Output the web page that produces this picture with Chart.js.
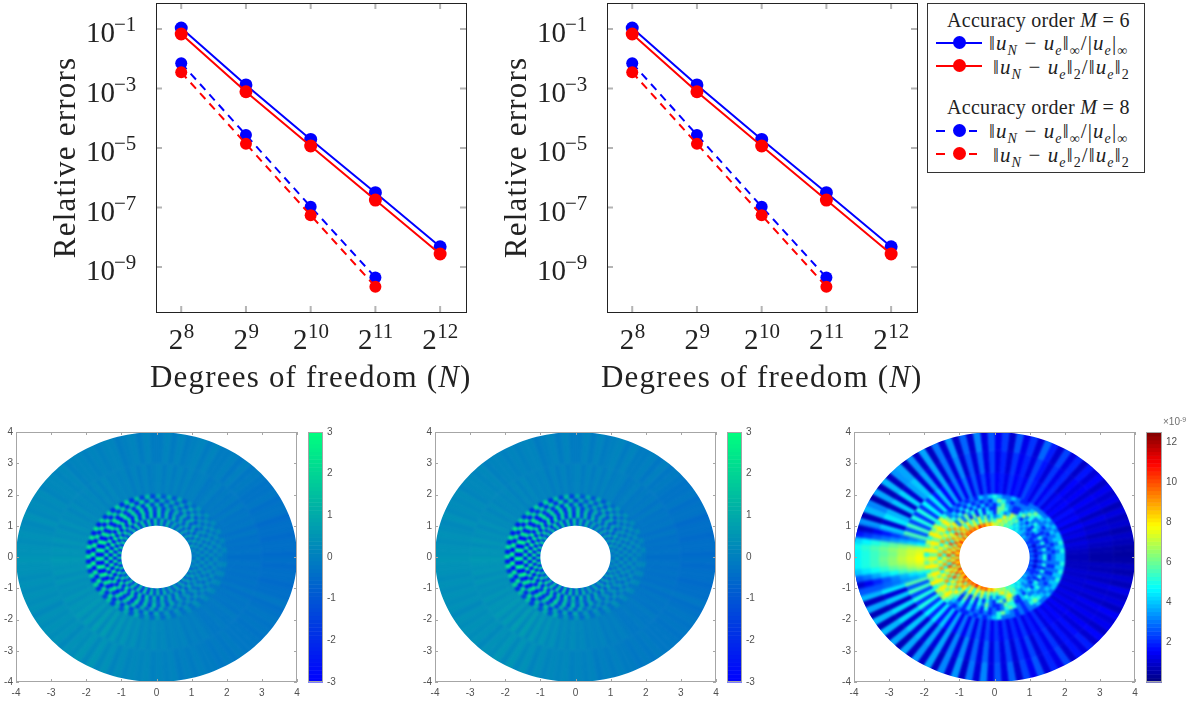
<!DOCTYPE html>
<html>
<head>
<meta charset="utf-8">
<script src="https://cdn.jsdelivr.net/npm/chart.js@4"></script>
<style>
  html, body { margin: 0; padding: 0; background: #fff; overflow: hidden; }
  canvas { position: absolute; }
  #legend { position: absolute; left: 927px; top: 3px; width: 216px; height: 168px; border: 1px solid #333; background: #fff; font-family: "Liberation Serif", serif; font-size: 20px; letter-spacing: .3px; color: #222; }
  #legend .t { position: absolute; white-space: nowrap; line-height: 20px; }
  #legend .m { font-size: 21px; letter-spacing: 1.1px; }
  #legend sub { font-size: 14px; line-height: 0; }
  #legend .l { position: absolute; height: 2px; }
  #legend .d { position: absolute; width: 13px; height: 13px; border-radius: 50%; }
</style>
</head>
<body>
<canvas id="top1" width="476" height="400" style="left:0;top:0"></canvas>
<canvas id="top2" width="476" height="400" style="left:451px;top:0"></canvas>
<canvas id="field1" width="303" height="281" style="left:0;top:426px"></canvas>
<canvas id="bar1" width="40" height="281" style="left:308px;top:426px"></canvas>
<canvas id="field2" width="303" height="281" style="left:419px;top:426px"></canvas>
<canvas id="bar2" width="40" height="281" style="left:727px;top:426px"></canvas>
<canvas id="field3" width="303" height="281" style="left:838px;top:426px"></canvas>
<canvas id="bar3" width="49" height="296" style="left:1146px;top:411px"></canvas>

<div id="legend">
  <div class="t" style="left:19px;top:6px">Accuracy order <i>M</i> = 6</div>
  <div class="l" style="left:8px;top:38px;width:46px;background:#00f"></div><div class="d" style="left:25px;top:32px;background:#00f"></div>
  <div class="t m" style="left:61px;top:29px">‖<i>u<sub>N</sub></i> − <i>u<sub>e</sub></i>‖<sub>∞</sub>/|<i>u<sub>e</sub></i>|<sub>∞</sub></div>
  <div class="l" style="left:8px;top:61px;width:46px;background:#f00"></div><div class="d" style="left:25px;top:55px;background:#f00"></div>
  <div class="t m" style="left:65px;top:53px">‖<i>u<sub>N</sub></i> − <i>u<sub>e</sub></i>‖<sub>2</sub>/‖<i>u<sub>e</sub></i>‖<sub>2</sub></div>
  <div class="t" style="left:19px;top:93px">Accuracy order <i>M</i> = 8</div>
  <div class="l" style="left:8px;top:126px;width:9px;background:#00f"></div><div class="l" style="left:41px;top:126px;width:8px;background:#00f"></div><div class="d" style="left:25px;top:120px;background:#00f"></div>
  <div class="t m" style="left:61px;top:117px">‖<i>u<sub>N</sub></i> − <i>u<sub>e</sub></i>‖<sub>∞</sub>/|<i>u<sub>e</sub></i>|<sub>∞</sub></div>
  <div class="l" style="left:8px;top:149px;width:9px;background:#f00"></div><div class="l" style="left:41px;top:149px;width:8px;background:#f00"></div><div class="d" style="left:25px;top:143px;background:#f00"></div>
  <div class="t m" style="left:65px;top:141px">‖<i>u<sub>N</sub></i> − <i>u<sub>e</sub></i>‖<sub>2</sub>/‖<i>u<sub>e</sub></i>‖<sub>2</sub></div>
</div>

<script>
// convergence curves
const dof = [256, 512, 1024, 2048, 4096];
const m6Inf = [1.08e-1, 1.32e-3, 1.95e-5, 3.16e-7, 4.8e-9];
const m6Two = [6.8e-2, 7.8e-4, 1.17e-5, 1.78e-7, 2.75e-9];
const m8Inf = [7.1e-3, 2.75e-5, 1.07e-7, 4.5e-10];
const m8Two = [3.5e-3, 1.38e-5, 5.5e-8, 2.2e-10];
const yTickValues = [1e-1, 1e-3, 1e-5, 1e-7, 1e-9];
const yTickExponents = ['−1', '−3', '−5', '−7', '−9'];
const xTickExponents = ['8', '9', '10', '11', '12'];

// outer part of the solution panels, estimated per 3 degree sector from east, counter clockwise
const fieldRing23 = [-.4,-.3,-.4,-.3,-.4,-.2,-.4,-.2,-.3,-.2,-.3,-.1,-.3,-.1,-.2, -.1,-.2,0,-.1,-.2,0,0,-.1,.1,-.1,.1,-.1,.1,-.1,.1, 0,-.1,.1,-.1,.1,-.1,.1,0,.1,0,.2,0,.2,0,.2, .1,.2,.1,.3,.1,.3,.2,.4,.2,.4,.3,.5,.3,.5,.4, .6,.5,.4,.5,.3,.5,.3,.4,.3,.5,.3,.5,.4,.6,.3, .6,.2,.7,.2,.7,.2,.6,.2,.5,.2,.4,.1,.3,.1,.3, .1,.2,0,.1,0,.1,-.1,0,-.1,0,-.1,-.2,-.2,-.1,-.2, -.2,-.1,-.3,-.2,-.3,-.2,-.4,-.2,-.4,-.3,-.4,-.3,-.4,-.3,-.4];
const fieldRing34 = [-.5,-.4,-.4,-.5,-.4,-.4,-.5,-.3,-.3,-.4,-.2,-.3,-.3,-.2,-.1, -.2,0,-.2,0,-.1,-.1,.1,-.1,.1,0,-.1,.1,-.1,.1,-.1, -.1,.1,-.1,.1,0,-.1,.1,.1,0,.1,0,.1,.1,0,.2, .1,.2,.2,.1,.3,.2,.3,.2,.4,.2,.3,.4,.3,.4,.4, .5,.4,.4,.3,.4,.3,.4,.3,.4,.2,.4,.3,.4,.3,.4, .2,.4,.3,.5,.2,.5,.2,.4,.1,.3,.1,.2,.1,.2,0, .1,0,.1,-.1,0,-.1,0,-.1,-.1,-.2,-.1,-.2,-.1,-.2,-.2, -.2,-.3,-.2,-.3,-.2,-.3,-.4,-.2,-.4,-.4,-.5,-.4,-.4,-.5,-.4];

// inner part r 1..2 of the solution panels, 4.5 degree columns
const fieldInner = [
  [.5,-.5,.5,-.5,1,-1,1,-1,1,-1,1,-1,1,-1,1,-1,1.5,-1.5,1.5,-1.5,2,-2,2,-2,2,-2,2,-2,2,-2,2,-2,2,-2,3,-3,3,-3,3,-3,3,-3,3,-3,3,-3,2,-2,2,-2,2,-2,2,-2,2,-2,2,-2,1.5,-1.5,1.5,-1.5,1,-1,1,-1,1,-1,1,-1,1,-1,1,-1,1,-1,.5,-.5,.5,-.5],
  [-.5,.5,-.5,.5,-.5,1,-1,1,-1,1,-1,1,-1,1,-1,1.5,-1.5,1.5,-1.5,2,-2,2,-2,2,-2,2.5,-2.5,2,-2,2.5,-2.5,3,-3,3,-3,3,-3,3,-3,3,-3,3,-3,3,-2.5,2.5,-2.5,2.5,-2,2,-2,2,-2,2,-2,2,-1.5,1.5,-1.5,1.5,-1,1,-1,1,-1,1,-1,1,-1,1,-.5,.5,-.5,.5,-.5,.5],
  [.5,-.5,.5,-.5,.5,-.5,1,-1,1,-1,1,-1,1,-1,1.5,-1.5,1.5,-1.5,2,-2,2,-2,2,-2,2.5,-2.5,2.5,-2.5,2.5,-2.5,2.5,-2.5,3,-3,3,-3,3,-3,3,-3,3,-3,3,-3,2.5,-2.5,2.5,-2.5,2.5,-2,2,-2,2,-2,2,-1.5,1.5,-1.5,1.5,-1,1,-1,1,-1,1,-1,1,-.5,.5,-.5,.5,-.5,.5,-.5,.5,-.5],
  [-.4,.4,-.5,.5,-.5,.5,-.5,.5,-1,1,-1,1,-1,1,-1,1,-1.5,1.5,-1.5,2,-2,2,-2,2,-2,2,-2.5,2.5,-2.5,2.5,-2.5,2.5,-3,3,-3,3,-3,3,-3,3,-3,3,-3,3,-3,2.5,-2.5,2.5,-2.5,2,-2,2,-2,2,-2,1.5,-1.5,1.5,-1,1,-1,1,-1,1,-1,1,-.5,.5,-.5,.5,-.5,.5,-.5,.5,-.5,.5,-.4,.4,-.4,.4],
  [.4,-.4,.4,-.4,.5,-.5,.5,-.5,.5,-1,1,-1,1,-1,1,-1,1,-1.5,1.5,-1.5,2,-2,2,-2,2,-2,2.5,-2.5,2.5,-2.5,2.5,-2.5,2.5,-3,3,-3,3,-3,3,-3,3,-3,3,-3,2.5,-2.5,2.5,-2.5,2,-2,2,-2,2,-1.5,1.5,-1.5,1.5,-1,1,-1,1,-.5,.5,-.5,.5,-.5,.5,-.5,.5,-.5,.4,-.4,.4,-.4,.4,-.4],
  [-.3,.3,-.4,.4,-.4,.4,-.5,.5,-.5,.5,-1,1,-1,1,-1,1,-1,1,-1.5,1.5,-1.5,2,-2,2,-2,2,-2,2.5,-2.5,2.5,-2.5,2.5,-2.5,2.5,-3,3,-3,3,-3,3,-3,3,-3,2.5,-2.5,2.5,-2.5,2,-2,2,-2,1.5,-1.5,1.5,-1.5,1,-1,1,-1,1,-.5,.5,-.5,.5,-.5,.5,-.5,.5,-.4,.4,-.4,.4,-.4,.4,-.3,.3,-.3,.3],
  [.2,-.2,.3,-.3,.3,-.3,.4,-.4,.4,-.5,.5,-.5,1,-1,1,-1,1,-1,1,-1.5,1.5,-1.5,2,-2,2,-2,2,-2,2,-2.5,2.5,-2.5,2.5,-2.5,2.5,-2.5,3,-3,3,-3,3,-3,2.5,-2.5,2.5,-2.5,2,-2,2,-2,1.5,-1.5,1.5,-1.5,1,-1,1,-1,1,-.5,.5,-.5,.5,-.5,.4,-.4,.4,-.4,.3,-.3,.3,-.3,.3,-.3,.2,-.2,.2,-.2],
  [-.2,.2,-.2,.2,-.3,.3,-.3,.3,-.3,.4,-.4,.5,-.5,.5,-1,1,-1,1,-1,1,-1.5,1.5,-1.5,1.5,-2,2,-2,2,-2,2,-2,2,-2.5,2.5,-2.5,2.5,-2.5,2.5,-2.5,2.5,-2.5,2.5,-2,2,-2,2,-2,1.5,-1.5,1.5,-1.5,1,-1,1,-1,1,-.5,.5,-.5,.5,-.5,.4,-.4,.3,-.3,.3,-.3,.3,-.3,.2,-.2,.2,-.2,.2,-.2,.2,-.2,.2,-.2]
];

// error panel, units of 1e-9, 3 degree sectors
const errRingA = [.7,.8,1,1.2,.9,1.3,1.1,1.5,1,1.6,1.3,1.7,1.2,1.6,1.3, 1.7,1.2,2,1.4,2.2,1.3,1.9,2.4,1.4,1.9,1.5,2.1,1.3,1.9,1.5, 2.2,1.4,2.4,1.3,2.6,1.3,3,1.4,3,1.4,3.6,1.6,4,1.8,4.4, 2.2,4.6,2.2,5,2.2,5,2.4,5.4,2.6,5.6,5.8,2.8,5.8,6.2,6.8, 7.4,7.2,6.6,6,2.8,5.6,5.8,2.6,5.4,2.4,5,2.2,5,2.2,4.6, 2,4.4,1.8,4,1.6,3.6,1.4,3,1.4,2.8,1.3,2.6,1.3,2.4,1.4, 2.2,1.4,2.2,1.3,2.1,1.4,2.2,1.3,1.9,1.4,2.1,1.2,1.7,1.3,1.6, 1.2,1.5,1.1,1.4,1.1,1.3,1,1.2,1,1.1,.9,1,.8,.8,.7];
const errRingB = [.5,.6,.8,1,.7,1.1,.9,1.3,.8,1.4,1.1,1.5,1,1.5,1.2, 1.6,1,2,1.3,2.2,1.1,1.8,2.4,1.2,2,1.4,2.2,1.1,2,1.3, 2.4,1.2,2.8,1.1,2.6,1,3.2,1.1,3,1,3.6,1.1,3.6,1,4, 3.6,1,4.2,.9,4,.8,3.8,4.4,1,4,4.4,1.2,1,4.2,5.2, 5.8,5.2,4.2,1,.9,4,4.4,1.1,4,.9,4.2,.9,4.2,1,4, 1,3.8,1,3.6,1.1,3.6,1,3.2,1.1,3.2,1.1,2.8,1.2,2.8,1.2, 2.4,1.2,2.4,1.1,2.2,1.3,2.4,1.1,2,1.3,2.2,1.1,1.8,1.2,1.7, 1.1,1.5,1,1.4,1.1,1.4,.9,1.2,.9,1.2,.8,1,.7,.8,.5];
const errRingC = [.4,.5,.7,.9,.6,1,.8,1.2,.7,1.3,1,1.4,.9,1.6,1.1, 1.8,.9,2,1.2,2.4,1,1.9,2.8,1.1,2.2,1.3,2.6,1,2.3,1.4, 2.6,1.2,3.2,1,2.8,.9,3.4,1,3,.8,3.6,.9,3.4,.7,3.6, 3.4,.8,3.8,.7,3.6,.6,3.2,3.8,.7,3.4,3.6,.8,.6,3.2,4.2, 4.8,4.2,3.4,.7,.6,3.4,3.8,.8,3.6,.7,3.8,.7,3.8,.8,3.6, .7,3.6,.8,3.4,.9,3.6,.8,3.2,1,3.4,.9,3,1.1,3.2,1.2, 2.6,1.2,2.8,1,2.4,1.4,2.6,1.1,2,1.3,2.4,1,1.8,1.2,1.9, 1,1.6,.9,1.4,1.1,1.5,.8,1.2,.9,1.3,.7,1,.6,.8,.5];
// the bright wedge facing west, 165 to 198 degrees, rows from r 2 outward
const errWest = [
  [3.4,4.6,7,7.4,7.6,7.8,7.6,7.2,6.6,5,4],
  [3,4.2,6.6,7.2,7.2,7.4,7.2,6.8,6,4.4,3.6],
  [2.6,3.8,6.2,6.8,6.8,7,6.8,6.2,5.4,3.8,3.4],
  [2.2,3.4,5.8,6.4,6.2,6.4,6.4,5.8,4.8,3.2,3],
  [1.8,3,5.4,6,5.8,6,5.8,5.2,4.2,2.6,2.8],
  [1.4,2.6,5,5.6,5.4,5.4,5.4,4.8,3.6,2,2.6],
  [1,2.2,4.6,5.2,5,5,5,4.4,3,1.4,2.6],
  [.8,1.8,4.2,4.8,4.6,4.6,4.6,4,2.6,1,2.6]
];
// r 1..2, 4 degree columns
const errInner = [
  [2,3,2,3,2,3,2,3,3,4,3,4, 4,5,4,5,5,6,5,7,6,7,7, 8,9,8,10,9,11,8,10,9,10,9, 10,7,10,8,11,8,10,7,10,8,10,7,10,8,10,7,11,8,10,8,11,8,10, 9,10,9,11,8,10,9,10,8,9,8, 7,7,6,7,5,6,5,5,4,5,4, 4,3,4,3,3,2,3,2,3,2,3],
  [1,2,1,2,1,2,2,2,3,2,3,4, 3,4,5,4,6,5,7,6,8,7,5, 6,4,7,5,8,5,8,6,9,6,9, 7,10,6,9,7,10,6,9,7,10,6,9,7,10,6,9,7,10,6,9,7,10,6, 9,6,8,5,8,6,8,5,7,5,6, 5,7,8,6,7,5,6,4,5,4,3, 4,3,2,3,2,2,2,1,2,1,2],
  [3,2,3,2,3,2,3,2,2,3,2,3, 4,3,4,6,5,7,6,8,5,4,3, 5,3,6,4,7,4,7,5,8,5,8, 9,6,10,7,9,5,10,6,9,7,10,6,9,5,10,7,9,6,10,6,9,7,9, 8,5,8,5,7,4,7,4,6,3,5, 3,4,5,7,8,6,5,4,3,4,3, 3,2,3,2,3,2,3,2,3,2,3],
  [5,3,5,2,5,3,5,2,4,5,2,4, 2,4,2,4,6,7,4,3,5,6,2, 4,5,2,5,2,6,2,6,3,7,3, 7,9,5,8,6,9,5,8,6,9,5,8,6,9,5,8,6,9,5,8,6,9,5, 7,3,6,2,6,2,5,2,5,3,2, 5,6,3,7,6,3,2,4,2,4,5, 2,4,5,2,5,3,5,2,5,3,5],
  [2,3,2,3,2,2,3,2,3,4,5,3, 5,3,6,5,2,2,3,5,6,6,2, 2,4,2,5,2,5,3,6,3,6,3, 8,6,9,5,8,6,9,5,8,6,9,5,8,6,9,5,8,6,9,5,8,6,8, 6,2,6,2,5,2,5,3,6,3,2, 2,3,6,5,5,2,2,4,5,3,3, 4,5,3,3,2,3,2,3,2,3,2],
  [3,2,3,2,3,3,2,3,2,3,3,3, 5,6,4,3,2,2,3,4,6,4,2, 3,2,4,2,4,2,5,2,5,3,5, 6,8,6,8,6,8,6,8,6,8,6,8,6,8,6,8,6,8,6,8,6,8,6, 5,2,5,2,4,2,4,2,5,2,3, 2,3,5,6,5,3,2,3,4,5,4, 3,3,3,2,3,3,2,3,2,3,3],
  [4,3,4,3,4,3,4,3,4,3,4,5, 6,4,3,3,3,3,2,3,5,6,4, 2,3,2,3,2,4,2,4,2,4,3, 6,8,6,8,7,8,6,8,7,8,6,8,7,8,6,8,7,8,6,8,7,8,6, 4,3,4,2,4,2,3,2,3,2,3, 5,6,4,3,2,3,2,3,5,6,5, 4,3,4,3,4,3,4,3,4,3,4],
  [4,5,4,5,4,4,3,4,3,4,3,3, 3,3,3,2,2,3,4,3,3,4,5, 4,3,4,2,3,2,3,2,3,2,3, 5,7,5,7,6,8,5,7,6,8,5,7,6,8,5,7,6,8,5,7,6,7,5, 3,2,3,2,2,3,2,3,2,3,4, 5,3,3,3,2,3,2,3,3,4,3, 3,4,3,4,4,5,4,5,4,5,4]
];
const fieldTicks = [-4, -3, -2, -1, 0, 1, 2, 3, 4];
const barTicksField = [-3, -2, -1, 0, 1, 2, 3];
const barTicksErr = [2, 4, 6, 8, 10, 12];

const serif = '"Liberation Serif", serif';
const sans = '"Liberation Sans", Arial, sans-serif';

function clamp01(v) { return Math.max(0, Math.min(1, v)); }
const colormaps = {
  winter(t) { return `rgb(0,${Math.round(255 * t)},${Math.round(255 * (1 - t / 2))})`; },
  jet(t) {
    const c = o => Math.round(255 * clamp01(1.5 - Math.abs(4 * t - o)));
    return `rgb(${c(3)},${c(2)},${c(1)})`;
  }
};

// turns rings of values into polar cells, centre kept as x/y so the chart scales place them
function polarCells(rows, radii, startDeg, stepDeg) {
  const out = [];
  rows.forEach((row, j) => {
    const step = (stepDeg || 360 / row.length) * Math.PI / 180;
    const start = (startDeg || 0) * Math.PI / 180;
    row.forEach((v, i) => {
      const r0 = radii[j], r1 = radii[j + 1], t0 = start + i * step, t1 = t0 + step;
      const rm = (r0 + r1) / 2, tm = (t0 + t1) / 2;
      out.push({ x: rm * Math.cos(tm), y: rm * Math.sin(tm), v, r0, r1, t0, t1 });
    });
  });
  return out;
}

const fieldPlugin = {
  id: 'field',
  beforeDatasetsDraw(chart) {
    const o = chart.options.plugins.field;
    const sx = chart.scales.x, sy = chart.scales.y;
    const map = colormaps[o.map];
    const pt = (ctx, r, t, first) => {
      const px = sx.getPixelForValue(r * Math.cos(t)), py = sy.getPixelForValue(r * Math.sin(t));
      if (first) ctx.moveTo(px, py); else ctx.lineTo(px, py);
    };
    const ctx = chart.ctx;
    ctx.save();
    ctx.beginPath();
    for (let k = 0; k <= 180; k++) pt(ctx, 4, k * Math.PI / 90, k === 0);
    ctx.closePath();
    for (let k = 0; k <= 90; k++) pt(ctx, 1, k * Math.PI / 45, k === 0);
    ctx.closePath();
    ctx.clip('evenodd');
    // one blurred layer per dataset, first one at the back
    chart.data.datasets.forEach(ds => {
      const off = document.createElement('canvas');
      off.width = chart.width; off.height = chart.height;
      const c = off.getContext('2d');
      for (const cell of ds.data) {
        c.beginPath();
        for (let k = 0; k <= 3; k++) pt(c, cell.r1, cell.t0 + (cell.t1 - cell.t0) * k / 3, k === 0);
        for (let k = 3; k >= 0; k--) pt(c, cell.r0, cell.t0 + (cell.t1 - cell.t0) * k / 3, false);
        c.closePath();
        const col = map(clamp01((cell.v - o.vmin) / (o.vmax - o.vmin)));
        c.fillStyle = col; c.strokeStyle = col; c.lineWidth = 0.7;
        c.fill(); c.stroke();
      }
      ctx.filter = `blur(${ds.blur}px)`;
      ctx.drawImage(off, 0, 0);
    });
    ctx.restore();
  },
  afterDraw(chart) {
    const { ctx, chartArea: a, scales } = chart;
    ctx.save();
    ctx.strokeStyle = '#a6a6a6';
    ctx.lineWidth = 1;
    ctx.strokeRect(a.left + .5, a.top + .5, a.right - a.left - 1, a.bottom - a.top - 1);
    ctx.beginPath();
    scales.x.ticks.forEach(t => {
      const p = Math.round(scales.x.getPixelForValue(t.value)) + .5;
      ctx.moveTo(p, a.bottom); ctx.lineTo(p, a.bottom - 3);
      ctx.moveTo(p, a.top); ctx.lineTo(p, a.top + 3);
    });
    scales.y.ticks.forEach(t => {
      const p = Math.round(scales.y.getPixelForValue(t.value)) + .5;
      ctx.moveTo(a.left, p); ctx.lineTo(a.left + 3, p);
      ctx.moveTo(a.right, p); ctx.lineTo(a.right - 3, p);
    });
    ctx.stroke();
    ctx.restore();
  }
};

// scales keep the exact plot box, no room reserved for half labels
function noScalePadding(s) {
  s.paddingLeft = 0; s.paddingRight = 0; s.paddingTop = 0; s.paddingBottom = 0;
}

function makeField(id, layers, map, vmin, vmax) {
  new Chart(document.getElementById(id), {
    type: 'scatter',
    data: { datasets: layers.map(l => ({ data: l.cells, blur: l.blur, pointRadius: 0, showLine: false })) },
    plugins: [fieldPlugin],
    options: {
      responsive: false,
      animation: false,
      events: [],
      layout: { autoPadding: false, padding: { left: 0, top: 6, right: 6, bottom: 5 } },
      plugins: { legend: { display: false }, tooltip: { enabled: false }, field: { map, vmin, vmax } },
      scales: {
        x: {
          type: 'linear', min: -4, max: 4,
          grid: { display: false, drawTicks: false }, border: { display: false },
          afterBuildTicks: s => { s.ticks = fieldTicks.map(value => ({ value })); },
          afterFit: s => { s.height = 20; noScalePadding(s); },
          ticks: { color: '#505050', font: { family: sans, size: 10 }, padding: 5, maxRotation: 0, autoSkip: false, callback: v => String(v) }
        },
        y: {
          type: 'linear', min: -4, max: 4,
          grid: { display: false, drawTicks: false }, border: { display: false },
          afterBuildTicks: s => { s.ticks = fieldTicks.map(value => ({ value })); },
          afterFit: s => { s.width = 16; noScalePadding(s); },
          ticks: { color: '#505050', font: { family: sans, size: 10 }, padding: 3, autoSkip: false, callback: v => String(v) }
        }
      }
    }
  });
}

const barPlugin = {
  id: 'colorbar',
  beforeDatasetsDraw(chart) {
    const o = chart.options.plugins.colorbar;
    const { ctx, chartArea: a, scales: { y } } = chart;
    const levels = 64;
    for (let i = 0; i < levels; i++) {
      const lo = y.min + (y.max - y.min) * i / levels, hi = y.min + (y.max - y.min) * (i + 1) / levels;
      const p0 = y.getPixelForValue(lo), p1 = y.getPixelForValue(hi);
      ctx.fillStyle = colormaps[o.map]((i + .5) / levels);
      ctx.fillRect(a.left, p1, a.right - a.left, p0 - p1 + .5);
    }
    ctx.strokeStyle = '#a6a6a6';
    ctx.strokeRect(a.left + .5, a.top + .5, a.right - a.left - 1, a.bottom - a.top - 1);
    if (o.note) {
      ctx.fillStyle = '#707070';
      ctx.textBaseline = 'alphabetic';
      ctx.font = '10px ' + sans;
      ctx.fillText('×10', a.left + 17, a.top - 7);
      ctx.font = '7px ' + sans;
      ctx.fillText('-9', a.left + 34, a.top - 10);
    }
  }
};

function makeBar(id, map, vmin, vmax, tickList, topPad, note, barWidth) {
  new Chart(document.getElementById(id), {
    type: 'scatter',
    data: { datasets: [{ data: [] }] },
    plugins: [barPlugin],
    options: {
      responsive: false,
      animation: false,
      events: [],
      layout: { autoPadding: false, padding: { left: 0, top: topPad, right: 0, bottom: 25 } },
      plugins: { legend: { display: false }, tooltip: { enabled: false }, colorbar: { map, note } },
      scales: {
        x: { display: false },
        y: {
          position: 'right', type: 'linear', min: vmin, max: vmax,
          grid: { display: false, drawTicks: false }, border: { display: false },
          afterBuildTicks: s => { s.ticks = tickList.map(value => ({ value })); },
          afterFit: s => { s.width = s.chart.width - barWidth; noScalePadding(s); },
          ticks: { color: '#505050', font: { family: sans, size: 10 }, padding: 4, autoSkip: false, callback: v => String(v) }
        }
      }
    }
  });
}

const axisTextPlugin = {
  id: 'axisText',
  beforeDatasetsDraw(chart) {
    const { ctx, chartArea: a, scales: { x, y } } = chart;
    ctx.save();
    ctx.strokeStyle = '#b4b4b4';
    ctx.lineWidth = 2;
    ctx.beginPath();
    dof.forEach(v => {
      const p = x.getPixelForValue(v);
      ctx.moveTo(p, a.top); ctx.lineTo(p, a.top + 6);
      ctx.moveTo(p, a.bottom); ctx.lineTo(p, a.bottom - 6);
    });
    yTickValues.forEach(v => {
      const p = y.getPixelForValue(v);
      ctx.moveTo(a.left, p); ctx.lineTo(a.left + 6, p);
      ctx.moveTo(a.right, p); ctx.lineTo(a.right - 6, p);
    });
    ctx.stroke();
    ctx.restore();
  },
  afterDraw(chart) {
    const { ctx, chartArea: a, scales: { x, y } } = chart;
    ctx.save();
    ctx.strokeStyle = '#222';
    ctx.lineWidth = 1;
    ctx.strokeRect(a.left + .5, a.top + .5, a.right - a.left, a.bottom - a.top);
    ctx.fillStyle = '#222';
    ctx.textBaseline = 'alphabetic';
    yTickValues.forEach((v, i) => {
      const p = y.getPixelForValue(v);
      ctx.font = '29px ' + serif;
      ctx.fillText('10', a.left - 70, p + 13);
      ctx.font = '21px ' + serif;
      ctx.fillText(yTickExponents[i], a.left - 42, p + 2);
    });
    dof.forEach((v, i) => {
      const p = x.getPixelForValue(v);
      ctx.font = '21px ' + serif;
      const w = ctx.measureText(xTickExponents[i]).width;
      const left = p - (14.5 + w) / 2;
      ctx.fillText(xTickExponents[i], left + 15, a.bottom + 26);
      ctx.font = '29px ' + serif;
      ctx.fillText('2', left, a.bottom + 37);
    });
    ctx.font = '31px ' + serif;
    ctx.letterSpacing = '1.2px';
    ctx.fillText('Degrees of freedom (', a.left - 6, a.bottom + 75);
    const w1 = ctx.measureText('Degrees of freedom (').width;
    ctx.font = 'italic 31px ' + serif;
    ctx.fillText('N', a.left - 6 + w1, a.bottom + 75);
    const w2 = ctx.measureText('N').width;
    ctx.font = '31px ' + serif;
    ctx.fillText(')', a.left - 6 + w1 + w2, a.bottom + 75);
    ctx.translate(a.left - 81, (a.top + a.bottom) / 2);
    ctx.rotate(-Math.PI / 2);
    ctx.textAlign = 'center';
    ctx.fillText('Relative errors', 0, 0);
    ctx.restore();
  }
};

function series(ys, color, dash, radius, order) {
  return {
    data: ys.map((y, i) => ({ x: dof[i], y })),
    showLine: true,
    borderColor: color,
    backgroundColor: color,
    borderWidth: 2,
    borderDash: dash,
    pointRadius: radius,
    pointBorderWidth: 0,
    order
  };
}

function makeConvergence(id) {
  new Chart(document.getElementById(id), {
    type: 'scatter',
    data: {
      datasets: [
        series(m6Inf, '#0000ff', [], 6.5, 4),
        series(m6Two, '#ff0000', [], 6.5, 3),
        series(m8Inf, '#0000ff', [8, 6], 6, 2),
        series(m8Two, '#ff0000', [8, 6], 6, 1)
      ]
    },
    plugins: [axisTextPlugin],
    options: {
      responsive: false,
      animation: false,
      events: [],
      layout: { autoPadding: false, padding: { left: 156, top: 3, right: 10, bottom: 88 } },
      plugins: { legend: { display: false }, tooltip: { enabled: false } },
      scales: {
        x: {
          type: 'logarithmic', min: 195.4, max: 5404,
          ticks: { display: false }, grid: { display: false, drawTicks: false }, border: { display: false }
        },
        y: {
          type: 'logarithmic', min: 3.09e-11, max: 0.748,
          ticks: { display: false }, grid: { display: false, drawTicks: false }, border: { display: false }
        }
      }
    }
  });
}

makeConvergence('top1');
makeConvergence('top2');

const innerEdges = [.95, 1.13, 1.25, 1.38, 1.5, 1.63, 1.75, 1.88, 2];
const solutionLayers = [
  { cells: polarCells([fieldRing23, fieldRing34], [1.9, 3, 4.1]), blur: 1.4 },
  { cells: polarCells(fieldInner, innerEdges), blur: .9 }
];
const errorLayers = [
  { cells: polarCells([errRingA, errRingB, errRingC], [1.9, 2.7, 3.4, 4.1]), blur: 1.2 },
  { cells: polarCells(errWest, [1.9, 2.26, 2.52, 2.78, 3.04, 3.3, 3.56, 3.82, 4.1], 165, 3), blur: 1.6 },
  { cells: polarCells(errInner, innerEdges), blur: 1.1 }
];

makeField('field1', solutionLayers, 'winter', -3, 3);
makeField('field2', solutionLayers, 'winter', -3, 3);
makeField('field3', errorLayers, 'jet', 0, 12.5);
makeBar('bar1', 'winter', -3, 3, barTicksField, 6, false, 15);
makeBar('bar2', 'winter', -3, 3, barTicksField, 6, false, 15);
makeBar('bar3', 'jet', 0, 12.5, barTicksErr, 21, true, 16);
</script>
</body>
</html>
